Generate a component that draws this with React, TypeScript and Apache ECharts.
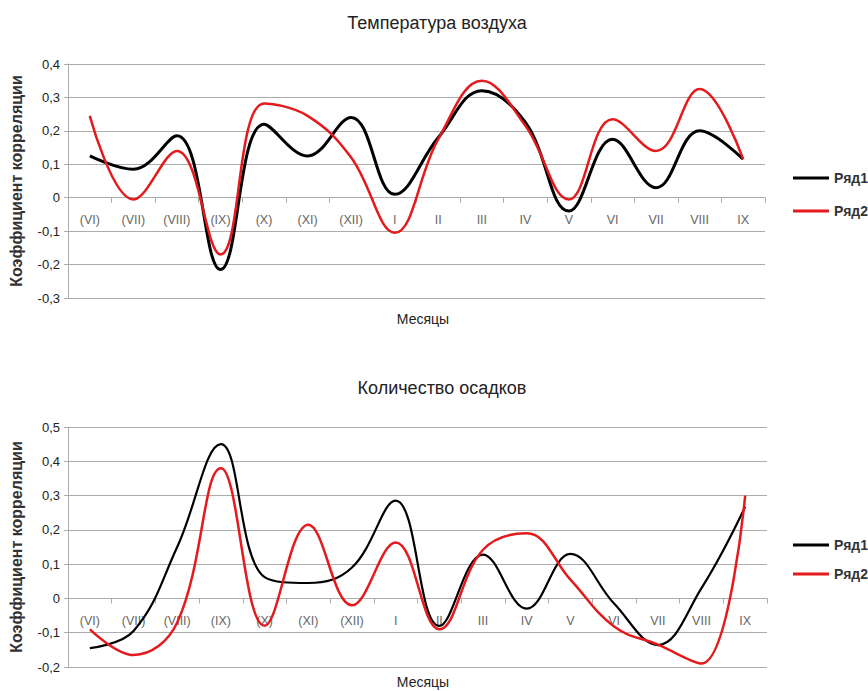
import React, { useEffect, useRef } from "react";
import * as echarts from "echarts";

const categories = ["(VI)", "(VII)", "(VIII)", "(IX)", "(X)", "(XI)", "(XII)", "I", "II", "III", "IV", "V", "VI", "VII", "VIII", "IX"];

const tempRow1 = [0.125, 0.085, 0.185, -0.215, 0.22, 0.125, 0.24, 0.01, 0.18, 0.32, 0.225, -0.04, 0.175, 0.03, 0.2, 0.115];
const tempRow2 = [0.245, -0.005, 0.14, -0.17, 0.282, 0.245, 0.12, -0.105, 0.175, 0.35, 0.215, -0.005, 0.235, 0.14, 0.325, 0.115];

const precRow1 = [-0.145, -0.095, 0.15, 0.45, 0.062, 0.045, 0.09, 0.285, -0.08, 0.128, -0.03, 0.13, -0.015, -0.136, 0.03, 0.267];
const precRow2 = [-0.09, -0.165, -0.07, 0.38, -0.08, 0.215, -0.02, 0.163, -0.09, 0.142, 0.19, 0.055, -0.082, -0.135, -0.19, 0.3];

const seriesNames = ["Ряд1", "Ряд2"];
const titles = ["Температура воздуха", "Количество осадков"];
const xName = "Месяцы";
const yName = "Коэффициент корреляции";

const fmt = (v: number) => (Math.abs(v) < 1e-9 ? "0" : v.toFixed(1).replace(".", ","));

export default function App() {
  const ref = useRef<HTMLDivElement>(null);
  useEffect(() => {
    if (!ref.current) return;
    const chart = echarts.init(ref.current, undefined, { renderer: "svg" });
    const font = "'Liberation Sans', Arial, sans-serif";
    const gridColor = "#acacac";
    // offset moves the category axis up to the zero line of its grid
    const mkX = (gi: number, offset: number) => ({
      type: "category",
      gridIndex: gi,
      data: categories,
      boundaryGap: true,
      position: "bottom",
      offset,
      axisLine: { show: true, onZero: false, lineStyle: { color: gridColor, width: 1 } },
      axisTick: { show: true, length: 5, inside: false, lineStyle: { color: gridColor, width: 1 } },
      axisLabel: { color: "#666", fontSize: 12.5, margin: 16, fontFamily: font, interval: 0 },
      splitLine: { show: false },
    });
    const mkY = (gi: number, min: number, max: number) => ({
      type: "value",
      gridIndex: gi,
      min,
      max,
      interval: 0.1,
      name: yName,
      nameLocation: "middle",
      nameGap: 44,
      nameTextStyle: { fontSize: 16, fontWeight: "bold", color: "#333", fontFamily: font },
      axisLine: { show: true, lineStyle: { color: gridColor } },
      axisTick: { show: true, length: 4, lineStyle: { color: gridColor } },
      axisLabel: { color: "#222", fontSize: 13, formatter: fmt, fontFamily: font, margin: 8 },
      splitLine: { show: true, lineStyle: { color: gridColor, width: 1 } },
    });
    const mkS = (name: string, data: number[], gi: number, color: string, width: number) => ({
      type: "line",
      name,
      xAxisIndex: gi,
      yAxisIndex: gi,
      data,
      smooth: 0.4,
      symbol: "none",
      lineStyle: { color, width },
      itemStyle: { color },
    });
    const legendText = { fontSize: 14, fontWeight: "bold", color: "#333", fontFamily: font };
    chart.setOption({
      animation: false,
      backgroundColor: "#fff",
      textStyle: { fontFamily: font },
      title: [
        { text: titles[0], left: 432, textAlign: "center", top: 9, textStyle: { fontSize: 18, fontWeight: "normal", color: "#222", fontFamily: font } },
        { text: xName, left: 418, textAlign: "center", top: 307, textStyle: { fontSize: 14, fontWeight: "normal", color: "#222", fontFamily: font } },
        { text: titles[1], left: 437, textAlign: "center", top: 374, textStyle: { fontSize: 18, fontWeight: "normal", color: "#222", fontFamily: font } },
        { text: xName, left: 418, textAlign: "center", top: 670, textStyle: { fontSize: 14, fontWeight: "normal", color: "#222", fontFamily: font } },
      ],
      legend: [
        {
          orient: "vertical",
          left: 793,
          top: 171,
          padding: 0,
          itemWidth: 36,
          itemHeight: 3,
          itemGap: 19,
          icon: "rect",
          data: seriesNames,
          textStyle: legendText,
        },
        {
          orient: "vertical",
          left: 793,
          top: 538,
          padding: 0,
          itemWidth: 36,
          itemHeight: 3,
          itemGap: 15,
          icon: "rect",
          data: seriesNames,
          textStyle: legendText,
        },
      ],
      grid: [
        { left: 68, right: 103, top: 64, height: 234 },
        { left: 68, right: 101, top: 427, height: 240 },
      ],
      xAxis: [mkX(0, -234 * 3 / 7), mkX(1, -240 * 2 / 7)],
      yAxis: [mkY(0, -0.3, 0.4), mkY(1, -0.2, 0.5)],
      series: [
        mkS(seriesNames[0], tempRow1, 0, "#000000", 3),
        mkS(seriesNames[1], tempRow2, 0, "#e41a1c", 2.5),
        mkS(seriesNames[0], precRow1, 1, "#000000", 2.2),
        mkS(seriesNames[1], precRow2, 1, "#e41a1c", 2.5),
      ],
    });
    return () => chart.dispose();
  }, []);
  return <div ref={ref} style={{ position: "absolute", left: 0, top: 0, width: 868, height: 691 }} />;
}
